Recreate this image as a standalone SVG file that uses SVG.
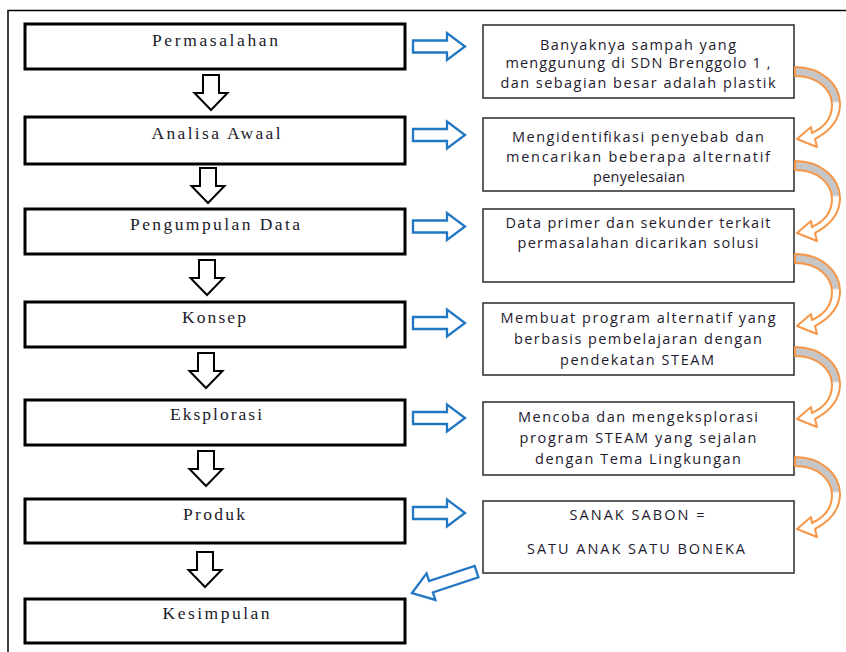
<svg xmlns="http://www.w3.org/2000/svg" width="846" height="652" viewBox="0 0 846 652">
<style>
.lb{fill:#fff;stroke:#000;stroke-width:3}
.rb{fill:#fff;stroke:#2a2a2a;stroke-width:1.5}
.lt{font-family:"Liberation Serif",serif;font-size:17.5px;fill:#1a1a2a;text-anchor:middle}
.rt{font-family:"Open Sans","Liberation Sans",sans-serif;font-size:14.5px;fill:#1e1a2e;text-anchor:middle}
.da{fill:#fff;stroke:#000;stroke-width:2;stroke-linejoin:miter}
.ba{fill:#fff;stroke:#2277c4;stroke-width:2.3;stroke-linejoin:miter}
.oa{fill:url(#og);stroke:#f79646;stroke-width:2;stroke-linejoin:round}
</style>
<defs>
<linearGradient id="og" x1="0" y1="0" x2="0" y2="1">
<stop offset="0" stop-color="#c6c6c6"/>
<stop offset="0.42" stop-color="#c6c6c6"/>
<stop offset="0.46" stop-color="#fff"/>
<stop offset="1" stop-color="#fff"/>
</linearGradient>
<path id="down" d="M-8,0 H8 V18 H16.5 L0,35 L-16.5,18 H-8 Z"/>
<path id="right" d="M0,-6 H34 V-13.5 L52,0 L34,13.5 V6 H0 Z"/>
<path id="curl" d="M0,0 C26,0 45,17 45,37 C45,52 37,63 20,72 L22,80 L2,72 L16,60 L17,66 C30,60 37,50 37,38 C37,22 22,9 0,9 Z"/>
</defs>
<path d="M8,652 V10.5 H846" fill="none" stroke="#000" stroke-width="1.5"/>

<g id="n-permasalahan"><rect class="lb" x="25" y="24" width="380" height="45"/><text class="lt" x="215" y="46" textLength="126" lengthAdjust="spacing">Permasalahan</text></g>
<g id="n-analisa"><rect class="lb" x="25" y="117" width="380" height="47"/><text class="lt" x="216" y="139" textLength="129" lengthAdjust="spacing">Analisa Awaal</text></g>
<g id="n-pengumpulan"><rect class="lb" x="25" y="209" width="380" height="45"/><text class="lt" x="215" y="230" textLength="170" lengthAdjust="spacing">Pengumpulan Data</text></g>
<g id="n-konsep"><rect class="lb" x="25" y="302" width="380" height="45"/><text class="lt" x="214" y="323" textLength="64" lengthAdjust="spacing">Konsep</text></g>
<g id="n-eksplorasi"><rect class="lb" x="25" y="400" width="380" height="45"/><text class="lt" x="216" y="420" textLength="92" lengthAdjust="spacing">Eksplorasi</text></g>
<g id="n-produk"><rect class="lb" x="25" y="499" width="380" height="44"/><text class="lt" x="214" y="520" textLength="62" lengthAdjust="spacing">Produk</text></g>
<g id="n-kesimpulan"><rect class="lb" x="25" y="599" width="380" height="44"/><text class="lt" x="216" y="619" textLength="107" lengthAdjust="spacing">Kesimpulan</text></g>

<g id="r-1"><rect class="rb" x="483" y="25" width="311" height="73"/>
<text class="rt" x="638" y="50" textLength="196" lengthAdjust="spacing">Banyaknya sampah yang</text>
<text class="rt" x="638" y="68" textLength="265" lengthAdjust="spacing">menggunung di SDN Brenggolo 1 ,</text>
<text class="rt" x="638" y="88" textLength="275" lengthAdjust="spacing">dan sebagian besar adalah plastik</text></g>
<g id="r-2"><rect class="rb" x="483" y="118" width="311" height="73"/>
<text class="rt" x="638" y="142" textLength="252" lengthAdjust="spacing">Mengidentifikasi penyebab dan</text>
<text class="rt" x="638" y="162" textLength="264" lengthAdjust="spacing">mencarikan beberapa alternatif</text>
<text class="rt" x="639" y="182" textLength="92" lengthAdjust="spacing">penyelesaian</text></g>
<g id="r-3"><rect class="rb" x="483" y="209" width="311" height="73"/>
<text class="rt" x="638" y="228" textLength="265" lengthAdjust="spacing">Data primer dan sekunder terkait</text>
<text class="rt" x="638" y="248" textLength="241" lengthAdjust="spacing">permasalahan dicarikan solusi</text></g>
<g id="r-4"><rect class="rb" x="483" y="303" width="311" height="72"/>
<text class="rt" x="638" y="323" textLength="275" lengthAdjust="spacing">Membuat program alternatif yang</text>
<text class="rt" x="638" y="344" textLength="248" lengthAdjust="spacing">berbasis pembelajaran dengan</text>
<text class="rt" x="637" y="365" textLength="154" lengthAdjust="spacing">pendekatan STEAM</text></g>
<g id="r-5"><rect class="rb" x="483" y="402" width="311" height="73"/>
<text class="rt" x="638" y="422" textLength="240" lengthAdjust="spacing">Mencoba dan mengeksplorasi</text>
<text class="rt" x="638" y="443" textLength="237" lengthAdjust="spacing">program STEAM yang sejalan</text>
<text class="rt" x="638" y="464" textLength="206" lengthAdjust="spacing">dengan Tema Lingkungan</text></g>
<g id="r-6"><rect class="rb" x="483" y="501" width="311" height="72"/>
<text class="rt" x="637" y="520" textLength="135" lengthAdjust="spacing">SANAK SABON =</text>
<text class="rt" x="636" y="554" textLength="218" lengthAdjust="spacing">SATU ANAK SATU BONEKA</text></g>

<g id="connectors">
<use href="#down" class="da" transform="translate(211,75)"/>
<use href="#down" class="da" transform="translate(208,168)"/>
<use href="#down" class="da" transform="translate(207,260)"/>
<use href="#down" class="da" transform="translate(206,353)"/>
<use href="#down" class="da" transform="translate(206,451)"/>
<use href="#down" class="da" transform="translate(205,552)"/>
<use href="#right" class="ba" transform="translate(413,46.5)"/>
<use href="#right" class="ba" transform="translate(413,135)"/>
<use href="#right" class="ba" transform="translate(413,226.5)"/>
<use href="#right" class="ba" transform="translate(413,323)"/>
<use href="#right" class="ba" transform="translate(413,418)"/>
<use href="#right" class="ba" transform="translate(413,513)"/>
<path class="ba" transform="translate(412,593) rotate(-18.4)" d="M0,0 L20,-14 L20,-6 L68,-6 L68,6 L20,6 L20,14 Z"/>
<use href="#curl" class="oa" transform="translate(795,67)"/>
<use href="#curl" class="oa" transform="translate(795,161)"/>
<use href="#curl" class="oa" transform="translate(795,254)"/>
<use href="#curl" class="oa" transform="translate(795,347)"/>
<use href="#curl" class="oa" transform="translate(795,457)"/>
</g>
</svg>
